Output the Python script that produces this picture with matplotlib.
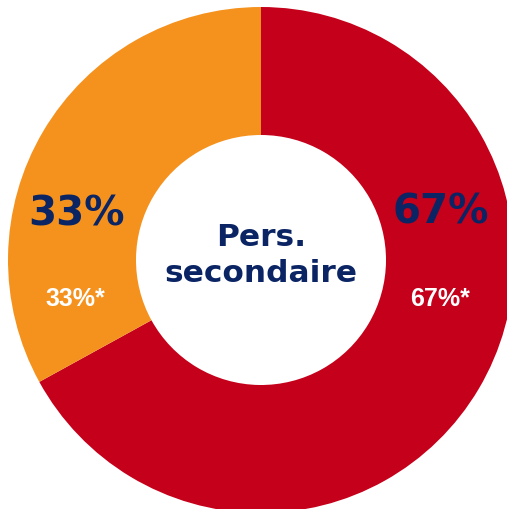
import matplotlib
matplotlib.use("Agg")
import matplotlib.pyplot as plt

# donnees
labels = ["Pers. secondaire A", "Pers. secondaire B"]
values = [67, 33]
big_labels = ["67%", "33%"]
small_labels = ["67%*", "33%*"]
colors = ["#C5001A", "#F5921E"]
navy = "#0A2464"

fig = plt.figure(figsize=(5.07, 5.10), dpi=100)
ax = fig.add_axes([0, 0, 1, 1])
ax.set_xlim(0, 507)
ax.set_ylim(0, 510)
ax.set_aspect("equal")
ax.axis("off")

cx, cy, R = 261, 249, 253
wedges, _ = ax.pie(values, colors=colors, startangle=90, counterclock=False,
                   center=(cx, cy), radius=R,
                   wedgeprops=dict(width=128, linewidth=0))
ax.set_xlim(0, 507)
ax.set_ylim(0, 510)

# etiquettes
pos_big = [(441, 297), (76, 296)]
pos_small = [(440, 211), (75, 211)]
for i in range(len(values)):
    ax.text(pos_big[i][0], pos_big[i][1], big_labels[i], color=navy,
            fontsize=29, fontweight="bold", family="DejaVu Sans",
            ha="center", va="center")
    ax.text(pos_small[i][0], pos_small[i][1], small_labels[i], color="white",
            fontsize=18, fontweight="bold", family="Liberation Sans",
            ha="center", va="center")

ax.text(cx, 273, "Pers.", color=navy, fontsize=22.5, fontweight="bold",
        family="DejaVu Sans", ha="center", va="center")
ax.text(cx, 236, "secondaire", color=navy, fontsize=22.5, fontweight="bold",
        family="DejaVu Sans", ha="center", va="center")

fig.savefig("out.png", dpi=100)
